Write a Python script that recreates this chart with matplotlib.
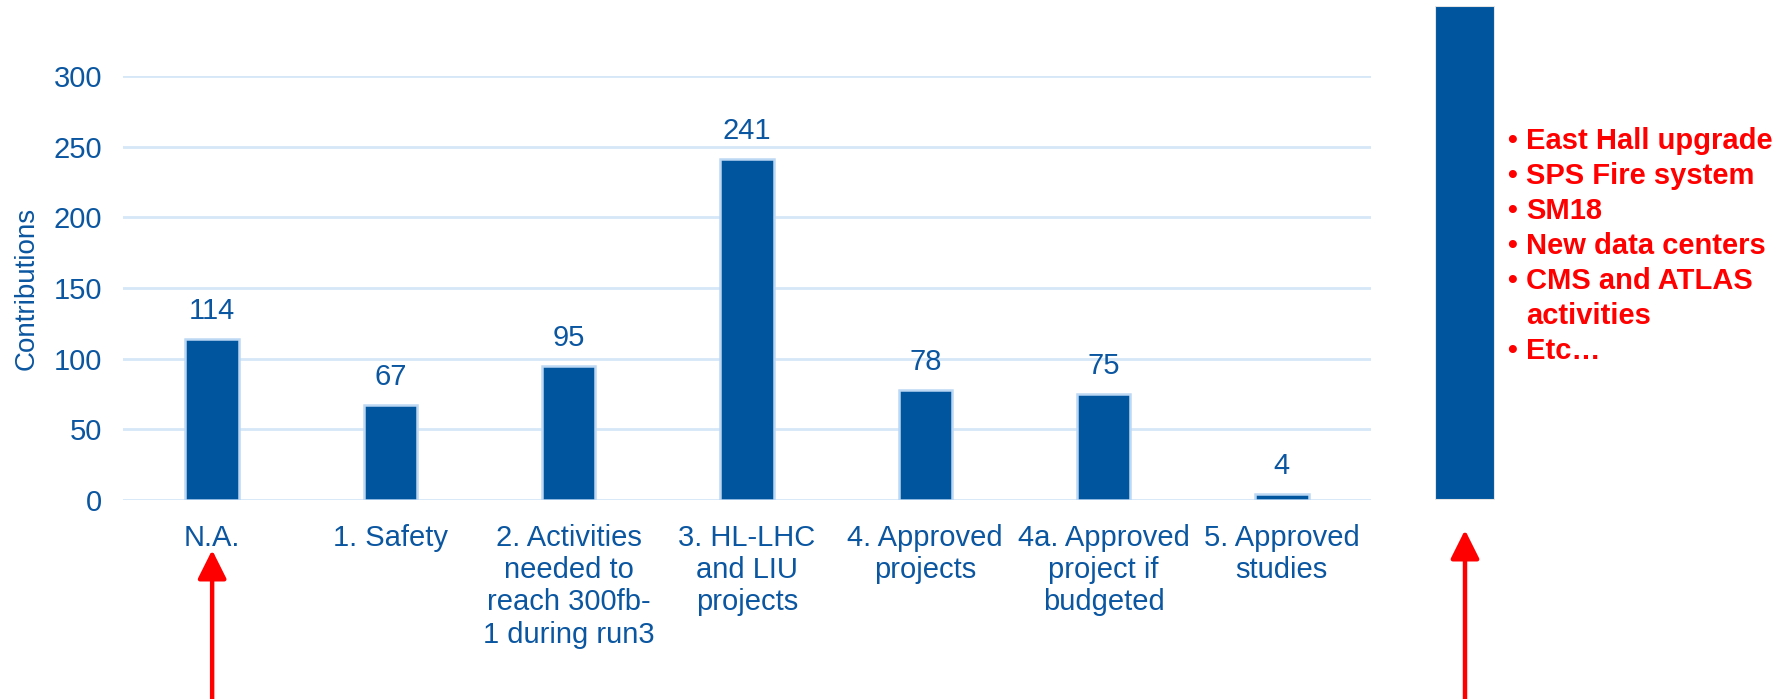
import matplotlib
matplotlib.use("Agg")
import matplotlib.pyplot as plt

plt.rcParams['font.family'] = ['Liberation Sans', 'DejaVu Sans']

# Daten
categories = ["N.A.", "1. Safety", "2. Activities\nneeded to\nreach 300fb-\n1 during run3",
              "3. HL-LHC\nand LIU\nprojects", "4. Approved\nprojects",
              "4a. Approved\nproject if\nbudgeted", "5. Approved\nstudies"]
contributions = [114, 67, 95, 241, 78, 75, 4]
yticks = [0, 50, 100, 150, 200, 250, 300]
na_bar = [350]  # rechter Balken, oben abgeschnitten
red_items = ["East Hall upgrade", "SPS Fire system", "SM18", "New data centers",
             "CMS and ATLAS\nactivities", "Etc…"]

BAR = '#00559f'
EDGE = '#bcd8f3'
GRID = '#d6e7f8'
TXT = '#0b56a0'
RED = '#ff0000'

W, H = 1779, 699
fig = plt.figure(figsize=(W / 100, H / 100), dpi=100)

# Hauptdiagramm
ax = fig.add_axes([123 / W, 199 / H, 1248 / W, 424 / H])
x = range(len(categories))
bars = ax.bar(x, contributions, width=0.3, color=BAR, edgecolor=EDGE, linewidth=1.8, zorder=3)
ax.bar_label(bars, padding=10, fontsize=21, color=TXT)
ax.set_xlim(-0.5, len(categories) - 0.5)
ax.set_ylim(0, 300)
ax.set_yticks(yticks)
ax.set_xticks(list(x))
ax.set_xticklabels(categories, fontsize=21, color=TXT, va='top', linespacing=1.2)
ax.tick_params(axis='y', length=0, pad=15, labelsize=21, labelcolor=TXT)
ax.tick_params(axis='x', length=0, pad=17)
ax.grid(axis='y', color=GRID, linewidth=2, zorder=0)
for s in ax.spines.values():
    s.set_visible(False)
ax.set_ylabel("Contributions", fontsize=20, color=TXT)
ax.yaxis.set_label_coords(-0.067, 0.5)

arrow = dict(arrowstyle='-|>,head_length=0.7,head_width=0.35', color=RED,
             lw=3.2, mutation_scale=25, shrinkA=0, shrinkB=0)

# Pfeil unter N.A.
ax.annotate('', xy=(0, (H - 550) / H), xycoords=('data', 'figure fraction'),
            xytext=(0, 0), textcoords=('data', 'figure fraction'),
            arrowprops=arrow, annotation_clip=False)

# Rechter Balken (abgeschnitten)
ax2 = fig.add_axes([1435 / W, 199 / H, 60 / W, 494 / H])
ax2.bar([0], na_bar, width=1.0, color=BAR, edgecolor='#e4e4e4', linewidth=1.5)
ax2.set_xlim(-0.5, 0.5)
ax2.set_ylim(0, na_bar[0])
ax2.axis('off')
ax2.annotate('', xy=(0, (H - 530) / H), xycoords=('data', 'figure fraction'),
             xytext=(0, 0), textcoords=('data', 'figure fraction'),
             arrowprops=arrow, annotation_clip=False)

# Rote Aufzählung
y = 141
step = 35
for item in red_items:
    lines = item.split("\n")
    fig.text(1512 / W, (H - y) / H, "•", fontsize=20, fontweight='bold', color=RED,
             ha='center', va='center')
    for ln in lines:
        fig.text(1526 / W, (H - y) / H, ln, fontsize=21, fontweight='bold', color=RED,
                 ha='left', va='center')
        y += step

fig.savefig("out.png", dpi=100)
